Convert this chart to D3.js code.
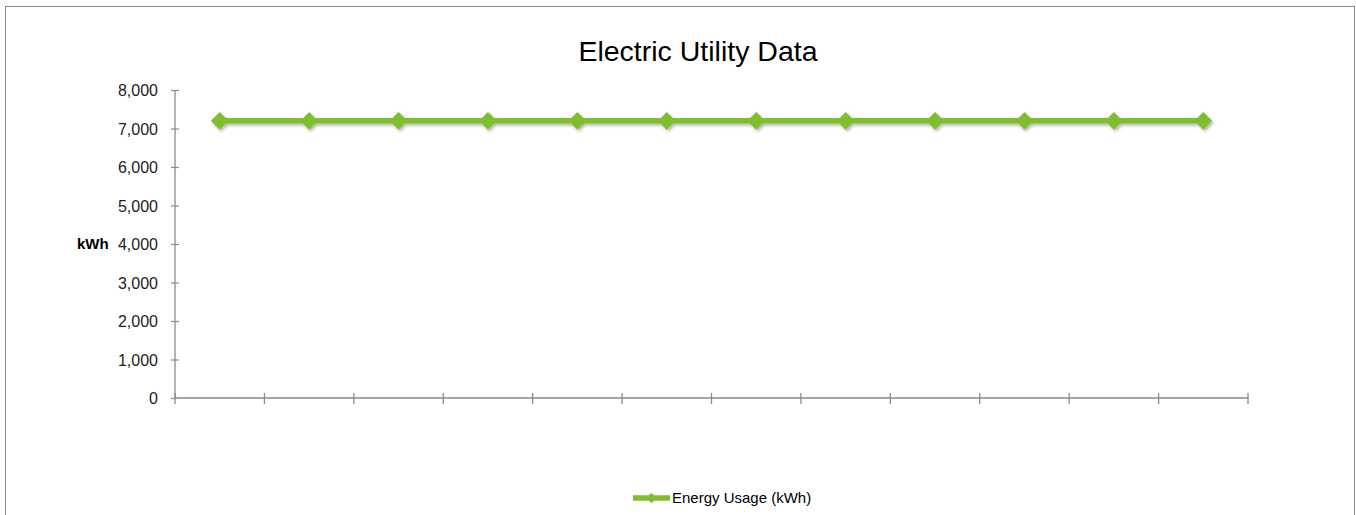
<!DOCTYPE html>
<html>
<head>
<meta charset="utf-8">
<script src="https://cdn.jsdelivr.net/npm/d3@7"></script>
<style>
  html, body { margin: 0; padding: 0; background: #fff; }
  svg { display: block; }
</style>
</head>
<body>
<svg id="chart" width="1356" height="515"></svg>
<script>
// ---- data ----
const categories = ["Jan","Feb","Mar","Apr","May","Jun","Jul","Aug","Sep","Oct","Nov","Dec"];
const energyUsage = [7200,7200,7200,7200,7200,7200,7200,7200,7200,7200,7200,7200];
const yTicks = [0,1000,2000,3000,4000,5000,6000,7000,8000];
const seriesName = "Energy Usage (kWh)";
const chartTitle = "Electric Utility Data";
const yAxisTitle = "kWh";

const svg = d3.select("#chart");
const font = "'Liberation Sans', Arial, sans-serif";
const green = "#7fbf2e";
const axisColor = "#8c8c8c";

// shadow filter (user-space region so a flat line is not clipped away)
const defs = svg.append("defs");
const f = defs.append("filter").attr("id","shadow").attr("filterUnits","userSpaceOnUse")
  .attr("x",0).attr("y",0).attr("width",1356).attr("height",515);
f.append("feDropShadow").attr("dx",1.5).attr("dy",2).attr("stdDeviation",1.6).attr("flood-color","#000").attr("flood-opacity",0.3);

// frame
svg.append("rect").attr("x",5.5).attr("y",6.5).attr("width",1349).attr("height",520)
  .attr("fill","#fff").attr("stroke","#8a8a8a").attr("stroke-width",1);

const plot = {left:175, right:1248, top:90, bottom:398};

const x = d3.scaleBand().domain(categories).range([plot.left, plot.right]).padding(0);
const y = d3.scaleLinear().domain([0, 8000]).range([plot.bottom, plot.top]);

// title
svg.append("text").attr("x", 698).attr("y", 61).attr("text-anchor","middle")
  .attr("font-family", font).attr("font-size", 28.5).attr("fill","#000")
  .text(chartTitle);

// y axis
const yAxis = d3.axisLeft(y).tickValues(yTicks).tickFormat(d3.format(",")).tickSize(4).tickPadding(4);
const gy = svg.append("g").attr("transform", `translate(${plot.left},0)`).call(yAxis);
gy.select(".domain").attr("stroke", axisColor).attr("stroke-width",1.3).attr("d", `M0,${plot.top}V${plot.bottom}`);
gy.selectAll(".tick line").attr("stroke", axisColor).attr("x1", 4).attr("x2", -4).attr("stroke-width",1.2);
gy.selectAll(".tick text").attr("font-family", font).attr("font-size", 16).attr("fill","#222")
  .attr("x", -17).attr("dy","0.35em");

// y axis title
svg.append("text").attr("x", 77).attr("y", 249).attr("font-family", font).attr("font-size", 15)
  .attr("font-weight","bold").attr("fill","#000").text(yAxisTitle);

// x axis
const gx = svg.append("g").attr("transform", `translate(0,${plot.bottom})`);
gx.append("line").attr("x1", plot.left).attr("x2", plot.right).attr("y1",0).attr("y2",0)
  .attr("stroke", "#a6a6a6").attr("stroke-width", 2.2);
const bounds = categories.map(c => x(c)).concat([x(categories[categories.length-1]) + x.bandwidth()]);
gx.selectAll("line.tk").data(bounds).join("line").attr("class","tk")
  .attr("x1", d => d).attr("x2", d => d).attr("y1", -5).attr("y2", 6)
  .attr("stroke", "#8c8c8c").attr("stroke-width", 1.3);

// series group with shared shadow
const series = svg.append("g").attr("filter","url(#shadow)");

// line
const line = d3.line().x((d,i) => x(categories[i]) + x.bandwidth()/2).y(d => y(d));
series.append("path").datum(energyUsage).attr("d", line).attr("fill","none")
  .attr("stroke", green).attr("stroke-width", 5.5);

// markers
const diamond = d3.symbol().type(d3.symbolDiamond2).size(200);
series.selectAll("path.mk").data(energyUsage).join("path").attr("class","mk")
  .attr("d", diamond)
  .attr("transform", (d,i) => `translate(${x(categories[i]) + x.bandwidth()/2},${y(d)})`)
  .attr("fill", green);

// legend
const lg = svg.append("g").attr("transform","translate(633,498)");
lg.append("line").attr("x1",0).attr("x2",37).attr("y1",0).attr("y2",0)
  .attr("stroke", green).attr("stroke-width",5.5);
lg.append("path").attr("d", d3.symbol().type(d3.symbolDiamond2).size(70)).attr("transform","translate(18.5,0)")
  .attr("fill", green);
lg.append("text").attr("x", 39).attr("y", 0).attr("dy","0.35em").attr("font-family", font)
  .attr("font-size", 15).attr("fill","#000").text(seriesName);
</script>
</body>
</html>
